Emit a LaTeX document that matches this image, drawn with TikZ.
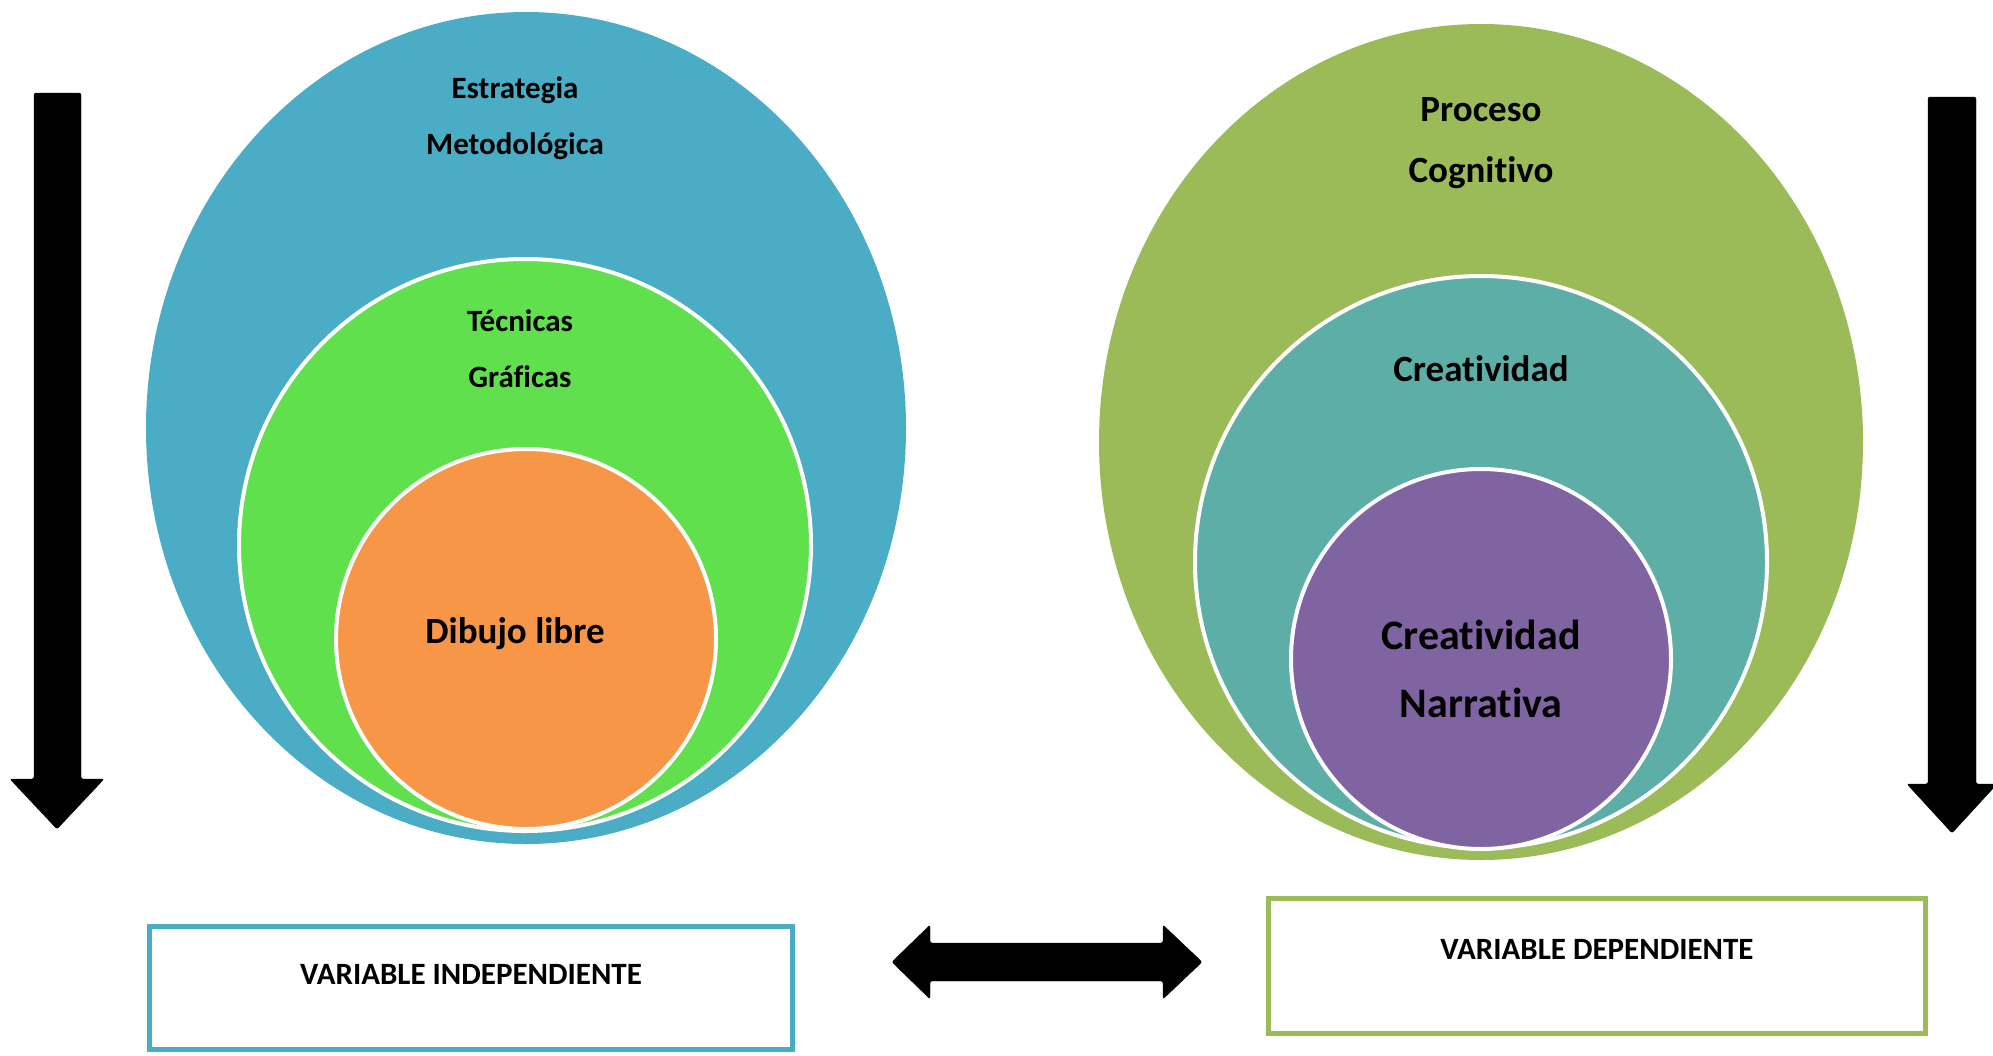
\documentclass[tikz,border=0pt]{standalone}
\usepackage{fontspec}
\setmainfont{Carlito}[Ligatures=NoCommon]
\usetikzlibrary{shapes.geometric}

\definecolor{estrablue}{HTML}{4BACC6}
\definecolor{tecgreen}{HTML}{60E04C}
\definecolor{dibujoorange}{HTML}{F79646}
\definecolor{procolive}{HTML}{9BBB59}
\definecolor{createal}{HTML}{5DAEA6}
\definecolor{narrpurple}{HTML}{8064A2}

\begin{document}
\begin{tikzpicture}[
    x=1pt, y=-1pt,
    outer/.style={ellipse, inner sep=0pt},
    ring/.style={circle, draw=white, line width=4pt, inner sep=0pt},
    small/.style={font=\bfseries\fontsize{31}{56}\selectfont, align=center},
    medium/.style={font=\bfseries\fontsize{37}{61}\selectfont, align=center},
    large/.style={font=\bfseries\fontsize{42}{68}\selectfont, align=center},
    varbox/.style={rectangle, draw, line width=5pt, fill=white, inner sep=0pt},
    blockarrow/.style={fill=black, rounded corners=2pt}
]
    \useasboundingbox (0,0) rectangle (1993,1055);

    % Independent variable
    \node [outer, fill=estrablue, minimum width=760, minimum height=832] (estra) at (526,428) {};
    \node [ring, fill=tecgreen, minimum size=572] (tec) at (525,545) {};
    \node [ring, fill=dibujoorange, minimum size=380] (dib) at (526,639) {};
    \node [small] (estratxt) at (515,118) {Estrategia\\Metodológica};
    \node [small] (tectxt) at (520,349) {Técnicas\\Gráficas};
    \node [medium] (dibtxt) at (515,634) {Dibujo libre};

    % Dependent variable
    \node [outer, fill=procolive, minimum width=764, minimum height=836] (proc) at (1481,442) {};
    \node [ring, fill=createal, minimum size=572] (crea) at (1481,562) {};
    \node [ring, fill=narrpurple, minimum size=380] (narr) at (1481,659) {};
    \node [medium] (proctxt) at (1481,143) {Proceso\\Cognitivo};
    \node [medium] (creatxt) at (1481,369) {Creatividad};
    \node [large] (narrtxt) at (1481,669) {Creatividad\\Narrativa};

    % Boxes
    \node [varbox, draw=estrablue, minimum width=643, minimum height=123] (vi) at (471,988) {};
    \node [small] (vitxt) at (471,974) {VARIABLE INDEPENDIENTE};
    \node [varbox, draw=procolive, minimum width=657, minimum height=135] (vd) at (1597,966) {};
    \node [small] (vdtxt) at (1597,949) {VARIABLE DEPENDIENTE};

    % Arrows
    \draw [blockarrow] (34,93) -- (81,93) -- (81,779) -- (104,779) -- (57,829)
        -- (10,779) -- (34,779) -- cycle;
    \draw [blockarrow] (1928,97) -- (1976,97) -- (1976,784) -- (1997,784) -- (1952,833)
        -- (1907,784) -- (1928,784) -- cycle;
    \draw [blockarrow] (892,962) -- (930,925) -- (930,943) -- (1163,943) -- (1163,925)
        -- (1202,962) -- (1163,999) -- (1163,981) -- (930,981) -- (930,999) -- cycle;
\end{tikzpicture}
\end{document}
